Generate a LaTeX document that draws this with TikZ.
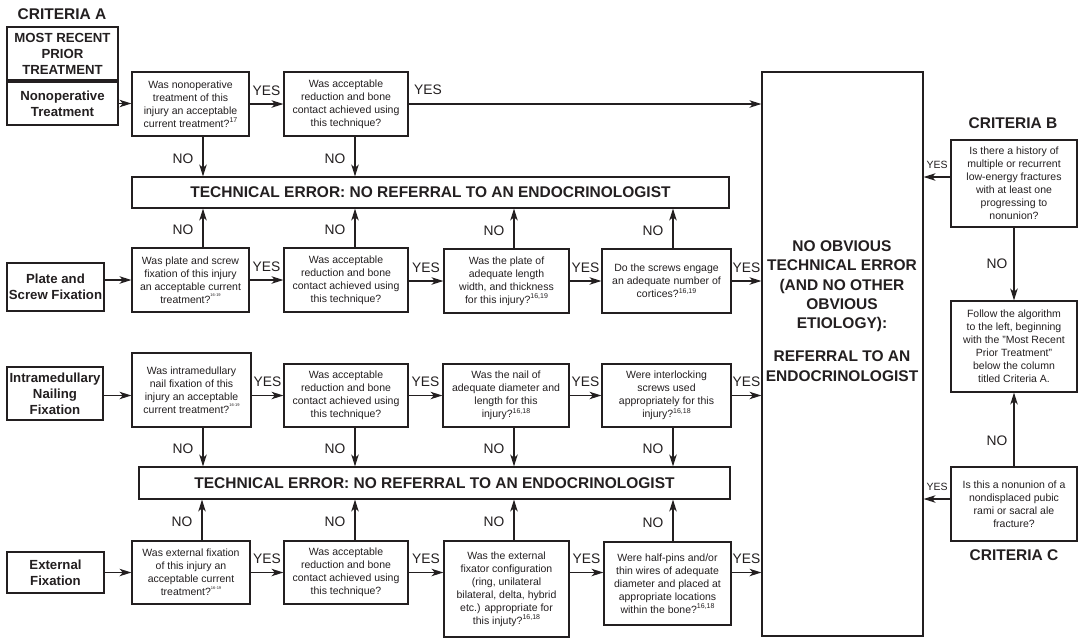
\documentclass[tikz,border=0pt]{standalone}
\usepackage{fontspec}
\setmainfont{Liberation Sans}
\usetikzlibrary{arrows.meta}
\definecolor{ink}{HTML}{231F20}
\newcommand\sref[1]{\raisebox{0.85ex}{\fontsize{7}{7}\selectfont #1}}
\newcommand\tref[1]{\raisebox{1.2ex}{\fontsize{4}{4}\selectfont #1}}
\begin{document}
\begin{tikzpicture}[x=1pt,y=-1pt,
 every node/.style={text=ink},
 box/.style={draw=ink, line width=1.2pt, inner sep=0pt, align=center},
 qbox/.style={box, font=\fontsize{10.5}{13}\selectfont},
 tbox/.style={box, font=\fontsize{13.2}{16}\bfseries\selectfont},
 wh/.style 2 args={minimum width=#1pt, minimum height=#2pt},
 head/.style={font=\fontsize{15.5}{18}\bfseries\selectfont, inner sep=0pt},
 arr/.style={draw=ink, line width=1.2pt, -{Stealth[length=12pt,width=7.5pt,inset=3.5pt]}},
 lab/.style={font=\fontsize{13.8}{14}\selectfont, inner sep=0pt},
 slab/.style={font=\fontsize{10.5}{11}\selectfont, inner sep=0pt},
 yes/.style={lab, midway, anchor=south, yshift=8pt},
 no/.style={lab, midway, anchor=east, xshift=-9pt, yshift=-2pt},
]
\useasboundingbox[fill=white] (0,0) rectangle (1080,638);

% ---------- Criteria A column ----------
\node[head] (critA) at (62,14) {CRITERIA A};
\node[tbox, wh={111}{53}] (mrpt) at (62.5,53.5) {MOST RECENT\\PRIOR\\TREATMENT};
\node[tbox, wh={111}{43}] (nonop) at (62.5,103.5) {Nonoperative\\Treatment};
\node[tbox, wh={97}{48}] (plate) at (55.5,287) {Plate and\\Screw Fixation};
\node[tbox, wh={96}{53}] (imf) at (55,393.5) {Intramedullary\\Nailing\\Fixation};
\node[tbox, wh={97}{41}] (ext) at (55.5,572.5) {External\\Fixation};

% ---------- Row 1 ----------
\node[qbox, wh={117}{64}] (q11) at (190.5,104) {Was nonoperative\\treatment of this\\injury an acceptable\\current treatment?\sref{17}};
\node[qbox, wh={124}{64}] (q12) at (346,104) {Was acceptable\\reduction and bone\\contact achieved using\\this technique?};

% ---------- Banners ----------
\node[box, wh={597}{31}, font=\fontsize{15.5}{18}\bfseries\selectfont] (ban1) at (430.5,192.5) {TECHNICAL ERROR: NO REFERRAL TO AN ENDOCRINOLOGIST};
\node[box, wh={591}{32}, font=\fontsize{15.5}{18}\bfseries\selectfont] (ban2) at (434.5,483) {TECHNICAL ERROR: NO REFERRAL TO AN ENDOCRINOLOGIST};

% ---------- Row 2 ----------
\node[qbox, wh={117}{64}] (q21) at (190.5,280) {Was plate and screw\\fixation of this injury\\an acceptable current\\treatment?\tref{16-19}};
\node[qbox, wh={124}{64}] (q22) at (346,280) {Was acceptable\\reduction and bone\\contact achieved using\\this technique?};
\node[qbox, wh={125}{64}] (q23) at (506.5,281) {Was the plate of\\adequate length\\width, and thickness\\for this injury?\sref{16,19}};
\node[qbox, wh={129}{64}] (q24) at (666.5,281) {Do the screws engage\\an adequate number of\\cortices?\sref{16,19}};

% ---------- Row 3 ----------
\node[qbox, wh={119}{74}] (q31) at (191.5,390) {Was intramedullary\\nail fixation of this\\injury an acceptable\\current treatment?\tref{16-19}};
\node[qbox, wh={124}{63}] (q32) at (346,395.5) {Was acceptable\\reduction and bone\\contact achieved using\\this technique?};
\node[qbox, wh={126}{63}] (q33) at (506,395.5) {Was the nail of\\adequate diameter and\\length for this\\injury?\sref{16,18}};
\node[qbox, wh={129}{63}] (q34) at (666.5,395.5) {Were interlocking\\screws used\\appropriately for this\\injury?\sref{16,18}};

% ---------- Row 4 ----------
\node[qbox, wh={118}{63}] (q41) at (191,572.5) {Was external fixation\\of this injury an\\acceptable current\\treatment?\tref{16-19}};
\node[qbox, wh={124}{63}] (q42) at (346,572.5) {Was acceptable\\reduction and bone\\contact achieved using\\this technique?};
\node[qbox, wh={125}{96}] (q43) at (506.5,589) {Was the external\\fixator configuration\\(ring, unilateral\\bilateral, delta, hybrid\\etc.) appropriate for\\this injuty?\sref{16,18}};
\node[qbox, wh={127}{83}] (q44) at (667.5,583.5) {Were half-pins and/or\\thin wires of adequate\\diameter and placed at\\appropriate locations\\within the bone?\sref{16,18}};

% ---------- Referral box ----------
\node[box, wh={161}{564}] (ref) at (842.5,354) {};
\node[inner sep=0pt, align=center, font=\fontsize{15.5}{19.3}\bfseries\selectfont] (reftxt) at (842,311) {NO OBVIOUS\\TECHNICAL ERROR\\(AND NO OTHER\\OBVIOUS\\ETIOLOGY):\\[14pt]REFERRAL TO AN\\ENDOCRINOLOGIST};

% ---------- Criteria B / C ----------
\node[head] (critB) at (1013,123) {CRITERIA B};
\node[qbox, wh={126}{87}] (qb) at (1014,183.5) {Is there a history of\\multiple or recurrent\\low-energy fractures\\with at least one\\progressing to\\nonunion?};
\node[qbox, wh={126}{91}] (follow) at (1014,346.5) {Follow the algorithm\\to the left, beginning\\with the "Most Recent\\Prior Treatment"\\below the column\\titled Criteria A.};
\node[qbox, wh={126}{74}] (qc) at (1014,504) {Is this a nonunion of a\\nondisplaced pubic\\rami or sacral ale\\fracture?};
\node[head] (critC) at (1014,555) {CRITERIA C};

% ---------- Connectors row 1 ----------
\draw[arr] (nonop.east) -- (nonop.east -| q11.west);
\draw[arr] (q11.east) -- node[yes]{YES} (q11.east -| q12.west);
\draw[arr] (q12.east) -- node[lab, pos=0, anchor=south west, xshift=5pt, yshift=9pt]{YES} (q12.east -| ref.west);
\draw[arr] ([xshift=12.5pt]q11.south) -- node[no]{NO} ([xshift=12.5pt]q11.south |- ban1.north);
\draw[arr] ([xshift=9pt]q12.south) -- node[no]{NO} ([xshift=9pt]q12.south |- ban1.north);

% ---------- Connectors row 2 ----------
\draw[arr] (plate.east |- q21.west) -- (q21.west);
\draw[arr] (q21.east) -- node[yes]{YES} (q21.east -| q22.west);
\draw[arr] (q22.east |- q23.west) -- node[yes]{YES} (q23.west);
\draw[arr] (q23.east) -- node[yes]{YES} (q23.east -| q24.west);
\draw[arr] (q24.east) -- node[yes]{YES} (q24.east -| ref.west);
\draw[arr] ([xshift=12.5pt]q21.north) -- node[no]{NO} ([xshift=12.5pt]q21.north |- ban1.south);
\draw[arr] ([xshift=9pt]q22.north) -- node[no]{NO} ([xshift=9pt]q22.north |- ban1.south);
\draw[arr] ([xshift=7.5pt]q23.north) -- node[no]{NO} ([xshift=7.5pt]q23.north |- ban1.south);
\draw[arr] ([xshift=6.5pt]q24.north) -- node[no]{NO} ([xshift=6.5pt]q24.north |- ban1.south);

% ---------- Connectors row 3 ----------
\draw[arr] (imf.east |- q32.west) -- (q31.west |- q32.west);
\draw[arr] (q31.east |- q32.west) -- node[yes]{YES} (q32.west);
\draw[arr] (q32.east) -- node[yes]{YES} (q33.west);
\draw[arr] (q33.east) -- node[yes]{YES} (q34.west);
\draw[arr] (q34.east) -- node[yes]{YES} (q34.east -| ref.west);
\draw[arr] ([xshift=11.5pt]q31.south) -- node[no]{NO} ([xshift=11.5pt]q31.south |- ban2.north);
\draw[arr] ([xshift=9pt]q32.south) -- node[no]{NO} ([xshift=9pt]q32.south |- ban2.north);
\draw[arr] ([xshift=8pt]q33.south) -- node[no]{NO} ([xshift=8pt]q33.south |- ban2.north);
\draw[arr] ([xshift=6.5pt]q34.south) -- node[no]{NO} ([xshift=6.5pt]q34.south |- ban2.north);

% ---------- Connectors row 4 ----------
\draw[arr] (ext.east) -- (ext.east -| q41.west);
\draw[arr] (q41.east) -- node[yes]{YES} (q41.east -| q42.west);
\draw[arr] (q42.east) -- node[yes]{YES} (q42.east -| q43.west);
\draw[arr] (q43.east |- q42.east) -- node[yes]{YES} (q44.west |- q42.east);
\draw[arr] (q44.east |- q42.east) -- node[yes]{YES} (ref.west |- q42.east);
\draw[arr] ([xshift=11pt]q41.north) -- node[no]{NO} ([xshift=11pt]q41.north |- ban2.south);
\draw[arr] ([xshift=9pt]q42.north) -- node[no]{NO} ([xshift=9pt]q42.north |- ban2.south);
\draw[arr] ([xshift=7.5pt]q43.north) -- node[no]{NO} ([xshift=7.5pt]q43.north |- ban2.south);
\draw[arr] ([xshift=5.5pt]q44.north) -- node[no]{NO} ([xshift=5.5pt]q44.north |- ban2.south);

% ---------- Connectors right side ----------
\draw[arr] ([yshift=6.5pt]qb.west) -- node[slab, midway, anchor=south, yshift=8pt]{YES} ([yshift=6.5pt]qb.west -| ref.east);
\draw[arr] (qb.south) -- node[lab, midway, anchor=east, xshift=-6pt]{NO} (follow.north);
\draw[arr] (qc.north) -- node[lab, pos=0.35, anchor=east, xshift=-6pt]{NO} (follow.south);
\draw[arr] ([yshift=5pt]qc.west) -- node[slab, midway, anchor=south, yshift=8pt]{YES} ([yshift=5pt]qc.west -| ref.east);
\end{tikzpicture}
\end{document}
